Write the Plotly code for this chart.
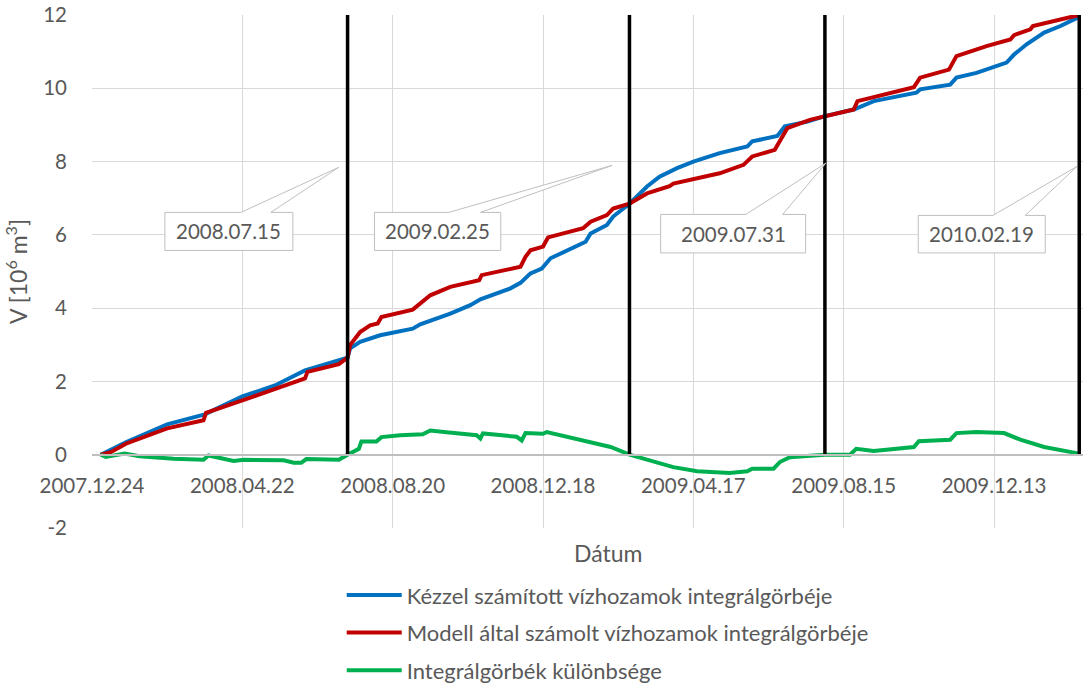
import plotly.graph_objects as go

# ---------------- data ----------------
blue_dates = ["2007-12-31","2008-01-20","2008-02-22","2008-03-23","2008-04-22","2008-05-18","2008-06-11",
              "2008-07-15","2008-07-17","2008-07-25","2008-08-10","2008-08-18","2008-09-05","2008-09-11",
              "2008-10-05","2008-10-21","2008-10-29","2008-11-22","2008-11-30","2008-12-08","2008-12-17",
              "2008-12-24","2009-01-21","2009-01-25","2009-02-07","2009-02-12","2009-02-25","2009-03-11",
              "2009-03-21","2009-04-04","2009-04-17","2009-05-08","2009-05-27","2009-05-30","2009-06-03",
              "2009-06-23","2009-06-29","2009-07-17","2009-07-31","2009-08-23","2009-09-08","2009-10-12",
              "2009-10-15","2009-11-08","2009-11-13","2009-11-29","2009-12-23","2009-12-29","2010-01-08",
              "2010-01-22","2010-02-04","2010-02-19"]
blue_vals = [0.00,0.34,0.83,1.10,1.59,1.89,2.30,
             2.65,2.90,3.08,3.26,3.32,3.44,3.56,
             3.85,4.08,4.24,4.54,4.69,4.95,5.08,
             5.36,5.81,6.04,6.27,6.50,6.85,7.32,
             7.59,7.82,8.00,8.23,8.38,8.41,8.55,
             8.70,8.96,9.09,9.24,9.42,9.65,9.88,
             9.97,10.10,10.29,10.42,10.70,10.92,11.20,
             11.52,11.70,11.95]

red_dates = ["2007-12-31","2008-01-08","2008-01-20","2008-02-22","2008-03-22","2008-03-24","2008-04-22",
             "2008-05-18","2008-06-11","2008-06-13","2008-07-08","2008-07-15","2008-07-17","2008-07-25",
             "2008-08-02","2008-08-08","2008-08-11","2008-09-05","2008-09-11","2008-09-19","2008-10-05",
             "2008-10-28","2008-10-30","2008-11-30","2008-12-04","2008-12-08","2008-12-18","2008-12-22",
             "2009-01-19","2009-01-25","2009-02-07","2009-02-12","2009-02-25","2009-03-11","2009-03-29",
             "2009-04-01","2009-05-08","2009-05-27","2009-06-03","2009-06-21","2009-06-27","2009-07-01",
             "2009-07-19","2009-07-31","2009-08-23","2009-08-26","2009-10-10","2009-10-15","2009-11-07",
             "2009-11-13","2009-12-07","2009-12-26","2009-12-29","2010-01-11","2010-01-13","2010-02-19"]
red_vals = [0.00,0.07,0.30,0.72,0.94,1.14,1.48,
            1.80,2.08,2.26,2.47,2.65,2.99,3.35,
            3.53,3.58,3.76,3.96,4.13,4.35,4.58,
            4.76,4.90,5.13,5.40,5.58,5.68,5.93,
            6.18,6.36,6.54,6.72,6.85,7.13,7.33,
            7.40,7.68,7.91,8.14,8.32,8.68,8.91,
            9.14,9.24,9.42,9.65,10.03,10.29,10.51,
            10.88,11.15,11.33,11.45,11.61,11.70,12.00]

green_dates = ["2007-12-31","2008-01-04","2008-01-19","2008-01-31","2008-02-27","2008-03-22","2008-03-26",
               "2008-04-15","2008-04-23","2008-05-25","2008-06-02","2008-06-08","2008-06-12","2008-07-04",
               "2008-07-08","2008-07-15","2008-07-24","2008-07-26","2008-08-07","2008-08-11","2008-08-26",
               "2008-09-13","2008-09-19","2008-10-02","2008-10-26","2008-10-29","2008-10-31","2008-11-27",
               "2008-12-01","2008-12-04","2008-12-18","2008-12-21","2009-01-17","2009-02-10","2009-02-25",
               "2009-03-11","2009-03-16","2009-04-01","2009-04-20","2009-05-16","2009-05-30","2009-06-03",
               "2009-06-20","2009-06-25","2009-07-03","2009-07-19","2009-07-31","2009-08-20","2009-08-25",
               "2009-09-08","2009-10-10","2009-10-14","2009-11-08","2009-11-13","2009-11-29","2009-12-21",
               "2010-01-03","2010-01-22","2010-02-19"]
green_vals = [0.00,-0.06,0.03,-0.04,-0.11,-0.14,-0.02,
              -0.17,-0.14,-0.15,-0.22,-0.22,-0.12,-0.12,
              -0.14,0.00,0.16,0.36,0.36,0.48,0.53,
              0.56,0.66,0.61,0.53,0.44,0.58,0.49,
              0.39,0.59,0.57,0.62,0.39,0.21,0.00,
              -0.14,-0.17,-0.34,-0.45,-0.50,-0.45,-0.38,
              -0.38,-0.20,-0.07,-0.02,0.00,0.00,0.16,
              0.10,0.21,0.37,0.41,0.59,0.62,0.59,
              0.41,0.21,0.03]

event_dates = ["2008-07-15", "2009-02-25", "2009-07-31", "2010-02-19"]
event_labels = ["2008.07.15", "2009.02.25", "2009.07.31", "2010.02.19"]
event_bottom = 0
event_top = 12

series_names = ["Kézzel számított vízhozamok integrálgörbéje",
                "Modell által számolt vízhozamok integrálgörbéje",
                "Integrálgörbék különbsége"]

x_range = ["2007-12-24", "2010-02-22"]
y_range = [-2, 12]
y_ticks = [-2, 0, 2, 4, 6, 8, 10, 12]
y_ticklabels = ["-2", "0", "2", "4", "6", "8", "10", "12"]

# ---------------- figure ----------------
FONT = "Lato"
GREY = "#595959"

fig = go.Figure()
for name, xs, ys, col, grp in [(series_names[0], blue_dates, blue_vals, "#0070C0", "a"),
                               (series_names[1], red_dates, red_vals, "#C00000", "b"),
                               (series_names[2], green_dates, green_vals, "#00B050", "c")]:
    fig.add_trace(go.Scatter(x=xs, y=ys, mode="lines", name=name, legendgroup=grp,
                             line=dict(color=col, width=4)))

for d in event_dates:
    fig.add_trace(go.Scatter(x=[d, d], y=[event_bottom, event_top], mode="lines",
                             line=dict(color="black", width=3.5), showlegend=False,
                             hoverinfo="skip"))

# callout geometry (pixel offsets relative to (event date, y=0)), y up positive
callouts = [
    dict(l=-182.7, r=-54.7, t=242.3, b=204.3, w1=-106.7, w2=-76.7, tx=-9.0, ty=287.3),
    dict(l=-255.0, r=-128.7, t=242.3, b=204.3, w1=-180.7, w2=-149.0, tx=-17.4, ty=289.3),
    dict(l=-164.3, r=-19.3, t=240.3, b=201.8, w1=-79.0, w2=-42.3, tx=1.0, ty=291.6),
    dict(l=-161.0, r=-34.0, t=239.3, b=201.8, w1=-86.3, w2=-54.0, tx=-2.3, ty=288.3),
]
shapes = []
annotations = []
for d, lab, c in zip(event_dates, event_labels, callouts):
    path = (f"M {c['l']},{c['b']} L {c['l']},{c['t']} L {c['w1']},{c['t']} "
            f"L {c['tx']},{c['ty']} L {c['w2']},{c['t']} L {c['r']},{c['t']} "
            f"L {c['r']},{c['b']} Z")
    shapes.append(dict(type="path", xref="x", yref="y", xsizemode="pixel", ysizemode="pixel",
                       xanchor=d, yanchor=0, path=path, fillcolor="white",
                       line=dict(color="#bfbfbf", width=1), layer="above"))
    annotations.append(dict(x=d, y=0, xref="x", yref="y", text=lab, showarrow=False,
                            xshift=(c['l'] + c['r']) / 2, yshift=(c['t'] + c['b']) / 2,
                            font=dict(family=FONT, size=20.5, color=GREY)))

annotations.append(dict(x=0.5207, y=-0.018, xref="paper", yref="paper", text="Dátum",
                        showarrow=False, yanchor="top",
                        font=dict(family=FONT, size=23, color=GREY)))

fig.update_layout(
    width=1084, height=684,
    margin=dict(l=92, r=1, t=15, b=156, autoexpand=False),
    paper_bgcolor="white", plot_bgcolor="white",
    font=dict(family=FONT, size=20, color=GREY),
    shapes=shapes, annotations=annotations,
    showlegend=True,
    legend=dict(orientation="v", x=0.252, xanchor="left", y=-0.09, yanchor="top",
                font=dict(family=FONT, size=22, color=GREY), tracegroupgap=6,
                itemwidth=55, bgcolor="rgba(0,0,0,0)"),
    xaxis=dict(type="date", range=x_range, tick0="2007-12-24", dtick=120 * 86400000,
               tickformat="%Y.%m.%d", showgrid=True, gridcolor="#d9d9d9", gridwidth=1,
               anchor="free", position=(0 - y_range[0]) / (y_range[1] - y_range[0]),
               showline=True, linecolor="#bfbfbf", linewidth=1.5, zeroline=False,
               ticks="", ticklabelstandoff=13,
               tickfont=dict(family=FONT, size=20.5, color=GREY)),
    yaxis=dict(range=y_range, tickvals=y_ticks, ticktext=y_ticklabels,
               showgrid=True, gridcolor="#d9d9d9", gridwidth=1,
               zeroline=False, showline=False, ticks="", ticklabelstandoff=24,
               tickfont=dict(family=FONT, size=20.5, color=GREY),
               title=dict(text="V [10<sup>6</sup> m<sup>3</sup>]", standoff=9,
                          font=dict(family=FONT, size=23, color=GREY))),
)

fig.write_html("out.html")
